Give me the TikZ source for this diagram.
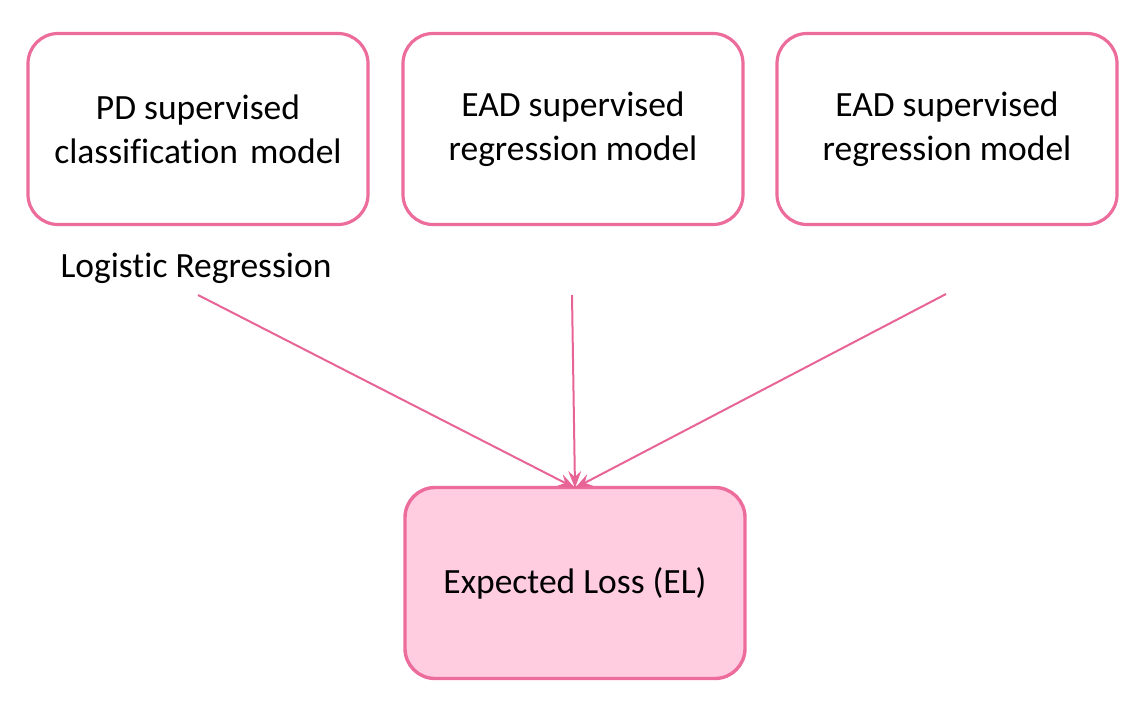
\documentclass[tikz,border=0pt]{standalone}
\usepackage{fontspec}
\setmainfont{Carlito}[Ligatures=NoCommon]
\usetikzlibrary{arrows.meta}
\definecolor{pinkline}{RGB}{236,108,155}
\definecolor{pinkfill}{RGB}{255,204,224}
\definecolor{arrowpink}{RGB}{232,100,150}
\newcommand{\dn}[1]{\raisebox{-2pt}{#1}}
\begin{document}
\begin{tikzpicture}[x=1pt,y=-1pt,
  box/.style={draw=pinkline,line width=3.2pt,rounded corners=30pt,minimum width=340pt,minimum height=191pt,align=center,font=\fontsize{35.5}{44}\selectfont,inner sep=0pt},
  conn/.style={draw=arrowpink,line width=2pt,-{Stealth[length=17pt,width=13pt,inset=6pt]}}]
\useasboundingbox (0,0) rectangle (1148,714);
\node[box] (pd) at (198,129) {\dn{PD supervised}\\\dn{classification\hspace{4pt} model}};
\node[box] (ead1) at (573,129) {\dn{EAD supervised}\\\dn{regression model}};
\node[box] (ead2) at (947,129) {\dn{EAD supervised}\\\dn{regression model}};
\node[box,fill=pinkfill,line width=3.4pt] (el) at (575,583) {\dn{Expected Loss (EL)}};
\node[font=\fontsize{35.5}{44}\selectfont,inner sep=0pt] (lr) at (196,268) {Logistic Regression};
\coordinate (s1) at (198,295);
\coordinate (s2) at (572,295);
\coordinate (s3) at (946,294);
\coordinate (t) at (575,488);
\draw[conn] (s1) -- (t);
\draw[conn] (s2) -- (t);
\draw[conn] (s3) -- (t);
\end{tikzpicture}
\end{document}
